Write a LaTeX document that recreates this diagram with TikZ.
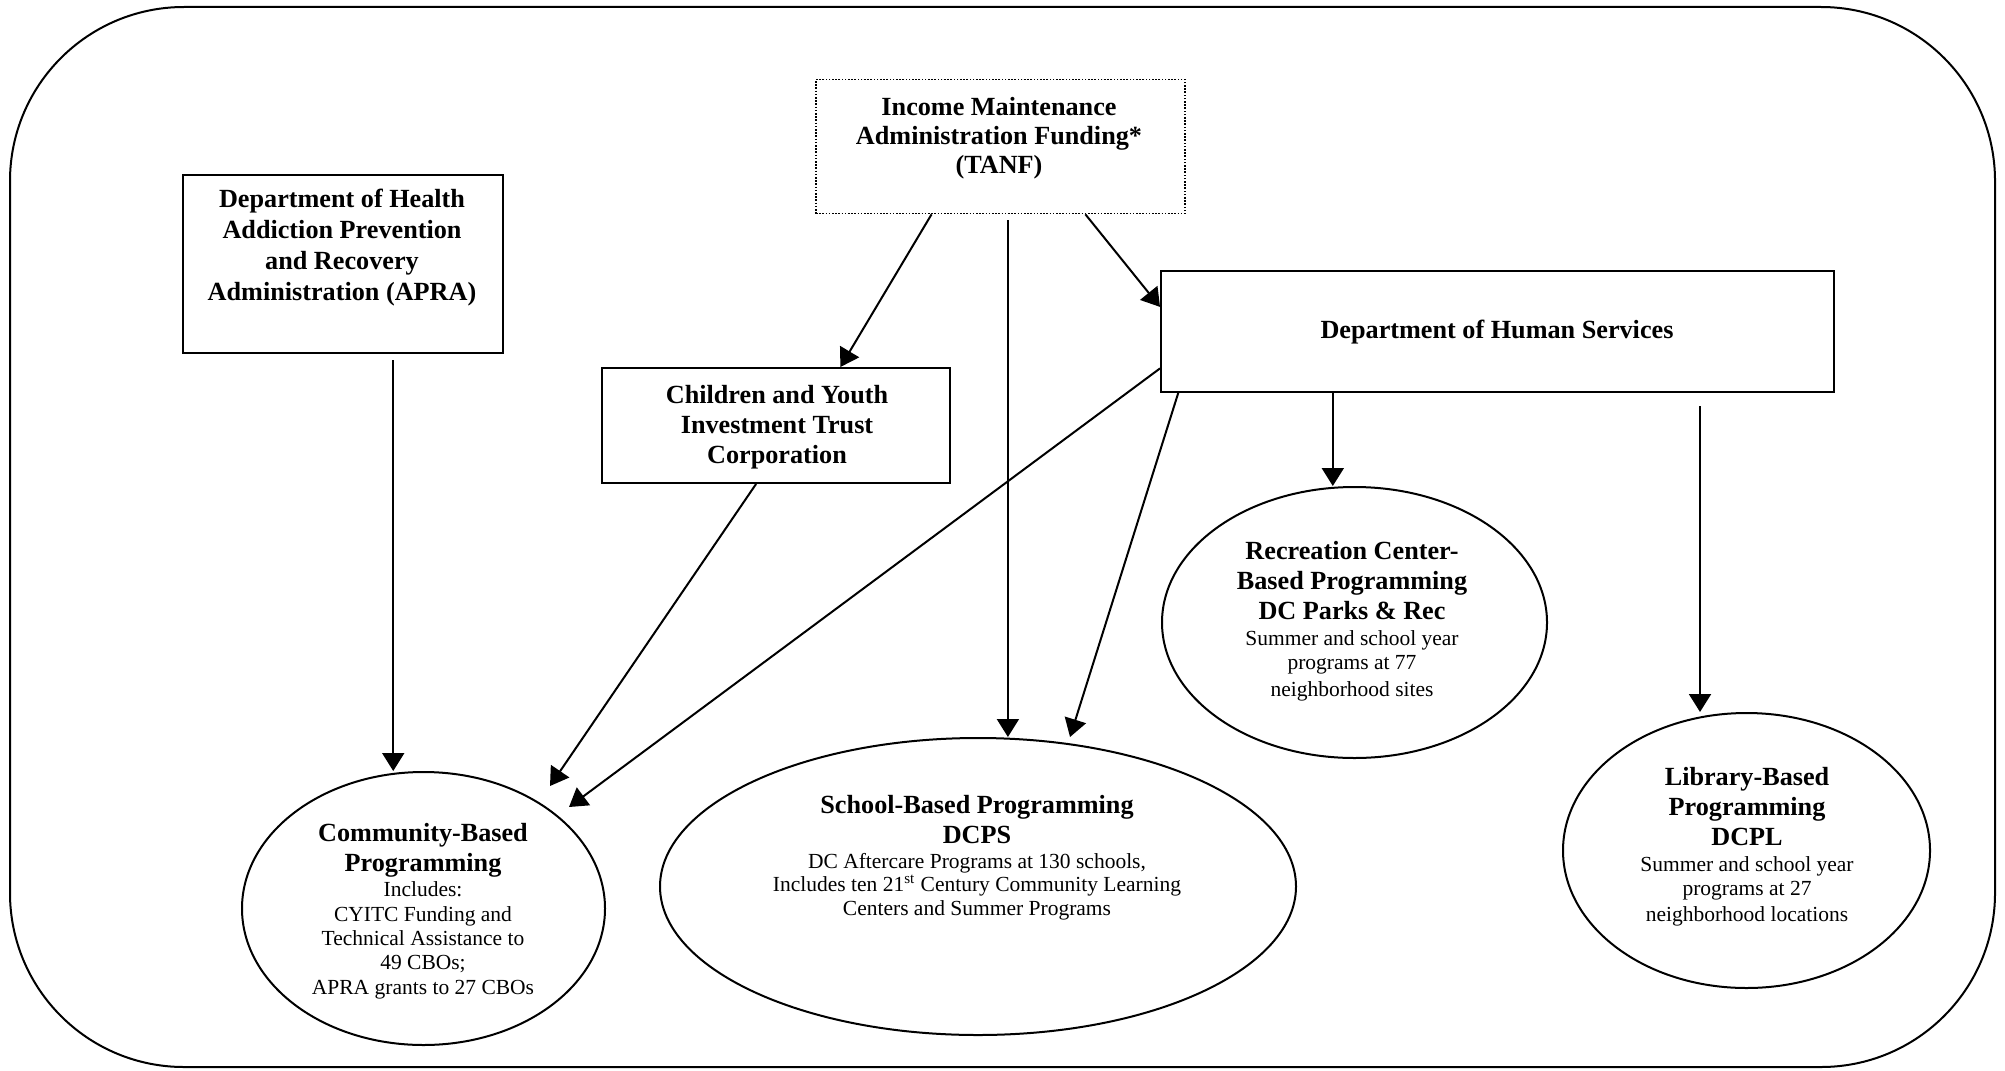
\documentclass[tikz,border=0pt]{standalone}
\usepackage{fontspec}
\setmainfont{Liberation Serif}
\usetikzlibrary{arrows.meta,calc,shapes.geometric}
\newcommand\hdfont{\fontsize{13.1}{15}\selectfont\bfseries}
\newcommand\rgfont{\fontsize{10.75}{12.5}\selectfont\mdseries}
\begin{document}
\begin{tikzpicture}[x=0.5pt,y=-0.5pt,
  box/.style={draw, line width=1pt, rectangle, inner sep=0pt},
  oval/.style={draw, line width=1pt, ellipse, inner sep=0pt},
  txt/.style={align=center, inner sep=0pt, font=\hdfont},
  arr/.style={line width=1pt, -{Triangle[length=9pt,width=11pt]}}]
\useasboundingbox (0,0) rectangle (2005,1070);
\draw[line width=1pt, rounded corners=87pt] (10,7) rectangle (1995,1067);

% boxes
\node[box, draw=black, line width=0.8pt, dash pattern=on 0.8pt off 0.8pt,
      minimum width=184.5pt, minimum height=67pt] (ima) at (1000.5,146.5) {};
\node[txt] (imat) at (999,138.5) {Income Maintenance\\[-0.5pt]Administration Funding*\\[-0.5pt](TANF)};

\node[box, minimum width=160pt, minimum height=89pt] (apra) at (343,264) {};
\node[txt] (aprat) at (342,248) {Department of Health\\[0.5pt]Addiction Prevention\\[0.5pt]and Recovery\\[0.5pt]Administration (APRA)};

\node[box, minimum width=174pt, minimum height=57.5pt] (cyitc) at (776,425.5) {};
\node[txt] (cyitct) at (777,427) {Children and Youth\\Investment Trust\\Corporation};

\node[box, minimum width=336.5pt, minimum height=60.5pt] (dhs) at (1497.5,331.5) {};
\node[txt] (dhst) at (1497,332) {Department of Human Services};

% ovals
\node[oval, minimum width=192.5pt, minimum height=135.5pt] (rec) at (1354.5,622.5) {};
\node[txt] (rect) at (1352,621.5) {Recreation Center-\\Based Programming\\DC Parks \& Rec\\[-2pt]
  {\rgfont Summer and school year}\\[-3pt]{\rgfont programs at 77}\\[-1.5pt]{\rgfont neighborhood sites}};

\node[oval, minimum width=181.5pt, minimum height=136.5pt] (community) at (423.5,908.5) {};
\node[txt] (communityt) at (423,911.5) {Community-Based\\Programming\\[-2.5pt]
  {\rgfont Includes:}\\[-2.5pt]{\rgfont CYITC Funding and}\\[-3pt]{\rgfont Technical Assistance to}\\[-3pt]{\rgfont 49 CBOs;}\\[-2.5pt]{\rgfont APRA grants to 27 CBOs}};

\node[oval, minimum width=318pt, minimum height=148.5pt] (school) at (978,886.5) {};
\node[txt] (schoolt) at (977,858) {School-Based Programming\\[0pt]DCPS\\[-2.5pt]
  {\rgfont DC Aftercare Programs at 130 schools,}\\[-3.5pt]{\rgfont Includes ten 21\textsuperscript{st} Century Community Learning}\\[-3pt]{\rgfont Centers and Summer Programs}};

\node[oval, minimum width=183.5pt, minimum height=137.5pt] (library) at (1746.5,850.5) {};
\node[txt] (libraryt) at (1747,847) {Library-Based\\Programming\\DCPL\\[-2pt]
  {\rgfont Summer and school year}\\[-3pt]{\rgfont programs at 27}\\[-2pt]{\rgfont neighborhood locations}};

% free arrow ends
\coordinate (t5) at (550,786);
\coordinate (t6) at (569,807);
\coordinate (t7) at (1070,737);

% connectors
\draw[arr] ($(ima.south west)!0.314!(ima.south east)$) -- ($(cyitc.north west)!0.684!(cyitc.north east)$);
\coordinate (s2) at ($(ima.south west)!0.52!(ima.south east)+(0,6)$);
\draw[arr] (s2) -- (s2 |- school.north);
\draw[arr] ($(ima.south west)!0.729!(ima.south east)$) -- ($(dhs.north west)!0.3!(dhs.south west)$);
\coordinate (s4) at ($(apra.south west)!0.656!(apra.south east)+(0,6)$);
\draw[arr] (s4) -- (s4 |- community.north);
\draw[arr] ($(cyitc.south west)!0.443!(cyitc.south east)$) -- (t5);
\draw[arr] ($(dhs.north west)!0.8!(dhs.south west)$) -- (t6);
\draw[arr] ($(dhs.south west)!0.027!(dhs.south east)$) -- (t7);
\coordinate (s8) at ($(dhs.south west)!0.256!(dhs.south east)$);
\draw[arr] (s8) -- (s8 |- rec.north);
\coordinate (s9) at ($(dhs.south west)!0.8!(dhs.south east)+(0,13)$);
\draw[arr] (s9) -- (s9 |- library.north);
\end{tikzpicture}
\end{document}
